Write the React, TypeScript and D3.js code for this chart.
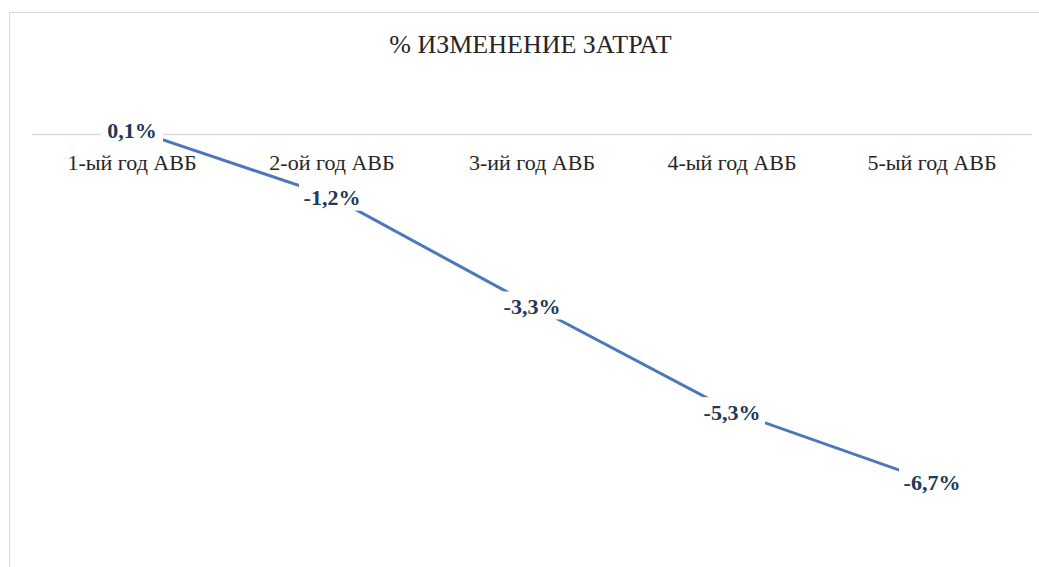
import React from "react";
import * as d3 from "d3";

const categories = ["1-ый год АВБ", "2-ой год АВБ", "3-ий год АВБ", "4-ый год АВБ", "5-ый год АВБ"];
const values = [0.1, -1.2, -3.3, -5.34, -6.7];
const valueLabels = ["0,1%", "-1,2%", "-3,3%", "-5,3%", "-6,7%"];
const title = "% ИЗМЕНЕНИЕ ЗАТРАТ";

const W = 1039;
const H = 567;

export default function App() {
  const plotLeft = 32;
  const plotRight = 1032;
  const x = d3.scaleBand<string>().domain(categories).range([plotLeft, plotRight]);
  const y = d3.scaleLinear().domain([-8, 0]).range([549, 134.5]);
  const cx = (c: string) => (x(c) as number) + x.bandwidth() / 2;
  const line = d3
    .line<number>()
    .x((_, i) => cx(categories[i]))
    .y((d) => y(d));
  const serif = "'Liberation Serif', 'Times New Roman', serif";

  return (
    <svg
      width={W}
      height={H}
      style={{ position: "absolute", left: 0, top: 0, background: "#fff" }}
    >
      <rect x={9.5} y={12.5} width={1100} height={600} fill="#fff" stroke="#d9d9d9" strokeWidth={1} />
      <text
        x={530.5}
        y={53}
        textAnchor="middle"
        style={{ fontFamily: serif }}
        fontSize={26}
        fill="#262626"
      >
        {title}
      </text>
      <line x1={plotLeft} x2={plotRight} y1={y(0)} y2={y(0)} stroke="#d9d9d9" strokeWidth={1.3} />
      {categories.map((c) => (
        <text
          key={c}
          x={cx(c)}
          y={170}
          textAnchor="middle"
          style={{ fontFamily: serif }}
          fontSize={22}
          fill="#262626"
        >
          {c}
        </text>
      ))}
      <path d={line(values) || ""} fill="none" stroke="#4a78bb" strokeWidth={3} strokeLinecap="round" />
      {values.map((v, i) => {
        const bw = i === 0 ? 62 : 66;
        return (
          <g key={i}>
            <rect x={cx(categories[i]) - bw / 2} y={y(v) - 14} width={bw} height={28} fill="#fff" />
            <text
              x={cx(categories[i])}
              y={y(v)}
              dy="0.4em"
              textAnchor="middle"
              style={{ fontFamily: serif }}
              fontWeight="bold"
              fontSize={22}
              fill="#22385a"
            >
              {valueLabels[i]}
            </text>
          </g>
        );
      })}
    </svg>
  );
}
